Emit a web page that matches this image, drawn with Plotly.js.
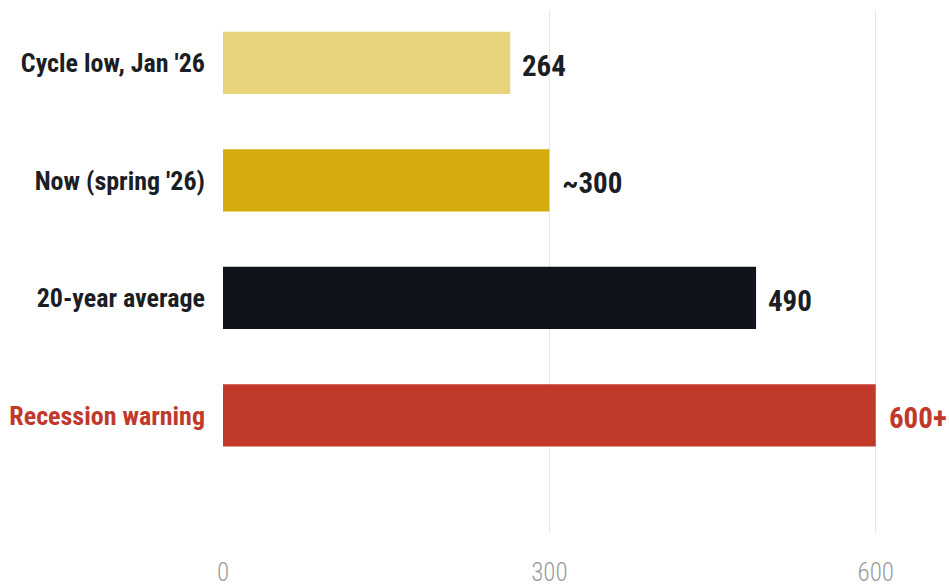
<!DOCTYPE html>
<html>
<head>
<meta charset="utf-8">
<script src="https://cdn.plot.ly/plotly-3.0.1.min.js"></script>
<style>
html,body{margin:0;padding:0;background:#fff;}
#chart{width:949px;height:586px;}
#chart text{font-stretch:75%;}
</style>
</head>
<body>
<div id="chart"></div>
<script>
var categories = ["Cycle low, Jan '26", "Now (spring '26)", "20-year average", "Recession warning"];
var values = [264, 300, 490, 600];
var valueLabels = ["264", "~300", "490", "600+"];
var barColors = ["#E8D37C", "#D4AC0D", "#10131A", "#C0392B"];
var labelColors = ["#1b1e24", "#1b1e24", "#1b1e24", "#C0392B"];
var xTicks = [0, 300, 600];

var FONT = 'Roboto, "Open Sans", sans-serif';

var trace = {
  type: 'bar',
  orientation: 'h',
  x: values,
  y: categories,
  width: 0.53,
  marker: {color: barColors, line: {width: 0}},
  hoverinfo: 'none'
};

var annotations = values.map(function(v, i) {
  return {
    x: v, y: categories[i], xref: 'x', yref: 'y',
    text: valueLabels[i], showarrow: false,
    xanchor: 'left', yanchor: 'middle', xshift: 7, yshift: -3,
    font: {family: FONT, size: 29, color: labelColors[i], weight: 'bold'}
  };
});

var tickText = categories.map(function(c, i) {
  return '<span style="color:' + labelColors[i] + '">' + c + '</span>';
});

var layout = {
  width: 949, height: 586,
  margin: {l: 223, r: 8, t: 10, b: 53},
  paper_bgcolor: '#ffffff', plot_bgcolor: '#ffffff',
  showlegend: false,
  xaxis: {
    range: [0, 660],
    tickvals: xTicks,
    ticktext: xTicks.map(String),
    showgrid: true, gridcolor: '#e6e6e6', gridwidth: 1,
    zeroline: false, showline: false, ticks: '',
    ticklabelstandoff: 22,
    tickfont: {family: FONT, size: 25, color: '#9a9a9a', weight: 300}
  },
  yaxis: {
    type: 'category',
    range: [4.0, -0.45],
    tickvals: categories,
    ticktext: tickText,
    showgrid: false, zeroline: false, showline: false, ticks: '',
    ticklabelstandoff: 17,
    tickfont: {family: FONT, size: 26, color: '#1b1e24', weight: 'bold'}
  },
  annotations: annotations
};

Plotly.newPlot('chart', [trace], layout, {staticPlot: true, displayModeBar: false});
</script>
</body>
</html>
